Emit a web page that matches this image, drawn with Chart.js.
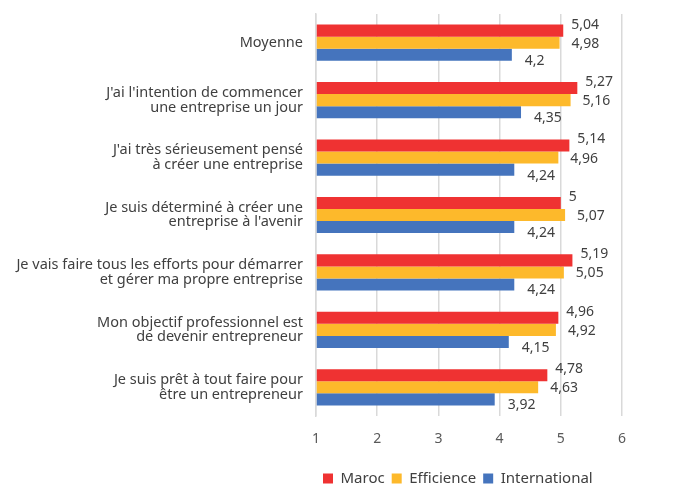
<!DOCTYPE html>
<html><head><meta charset="utf-8">
<script src="https://cdn.jsdelivr.net/npm/chart.js@4"></script>
<style>html,body{margin:0;padding:0;background:#fff}#w{width:674px;height:486px}</style>
</head><body><div id="w"><canvas id="c"></canvas></div>
<script>
const categories = [
  ["Moyenne"],
  ["J'ai l'intention de commencer", "une entreprise un jour"],
  ["J'ai très sérieusement pensé", "à créer une entreprise"],
  ["Je suis déterminé à créer une", "entreprise à l'avenir"],
  ["Je vais faire tous les efforts pour démarrer", "et gérer ma propre entreprise"],
  ["Mon objectif professionnel est", "de devenir entrepreneur"],
  ["Je suis prêt à tout faire pour", "être un entrepreneur"]
];
const maroc = [5.04, 5.27, 5.14, 5.00, 5.19, 4.96, 4.78];
const efficience = [4.98, 5.16, 4.96, 5.07, 5.05, 4.92, 4.63];
const international = [4.20, 4.35, 4.24, 4.24, 4.24, 4.15, 3.92];
const xTicks = [1, 2, 3, 4, 5, 6];

const FONT = "'Noto Sans', sans-serif";
const labelOffsets = [{dx: 8, dy: -6}, {dx: 12, dy: 1}, {dx: 13, dy: 6}];

const valueLabels = {
  id: 'valueLabels',
  afterDatasetsDraw(chart) {
    const ctx = chart.ctx;
    ctx.save();
    ctx.font = "14px " + FONT;
    ctx.fillStyle = '#404040';
    ctx.textAlign = 'left';
    ctx.textBaseline = 'middle';
    chart.data.datasets.forEach((ds, di) => {
      const meta = chart.getDatasetMeta(di);
      meta.data.forEach((el, i) => {
        const v = ds.data[i];
        const txt = String(v).replace('.', ',');
        ctx.fillText(txt, el.x + labelOffsets[di].dx, el.y + labelOffsets[di].dy);
      });
    });
    ctx.restore();
  }
};

new Chart(document.getElementById('c'), {
  type: 'bar',
  data: {
    labels: categories,
    datasets: [
      {label: 'Maroc', data: maroc, backgroundColor: '#EF3232'},
      {label: 'Efficience', data: efficience, backgroundColor: '#FDB92B'},
      {label: 'International', data: international, backgroundColor: '#4574BD'}
    ]
  },
  options: {
    indexAxis: 'y',
    responsive: true,
    maintainAspectRatio: false,
    animation: false,
    layout: {padding: {top: 14, right: 52, left: 0, bottom: -10}},
    datasets: {bar: {barPercentage: 1, categoryPercentage: 0.63, base: 1}},
    scales: {
      x: {
        min: 1, max: 6,
        afterBuildTicks(s) { s.ticks = xTicks.map(v => ({value: v})); },
        grid: {color: '#D9D9D9', lineWidth: 1.5, drawTicks: false},
        border: {display: false},
        ticks: {font: {family: FONT, size: 14}, color: '#595959', padding: 15},
        afterFit(s) { s.height = 48; }
      },
      y: {
        grid: {display: false, drawTicks: false},
        border: {display: true, color: '#D9D9D9', width: 1.5},
        ticks: {font: {family: FONT, size: 14.5, lineHeight: 1.0}, color: '#404040', padding: 13},
        afterFit(s) { s.width = 316; s.paddingTop = 0; s.paddingBottom = 0; }
      }
    },
    plugins: {
      legend: {
        position: 'bottom',
        fullSize: false,
        align: 'start',
        labels: {boxWidth: 10, boxHeight: 10, padding: 7, font: {family: FONT, size: 15}, color: '#404040'}
      },
      tooltip: {enabled: false}
    }
  },
  plugins: [valueLabels]
});
</script></body></html>
